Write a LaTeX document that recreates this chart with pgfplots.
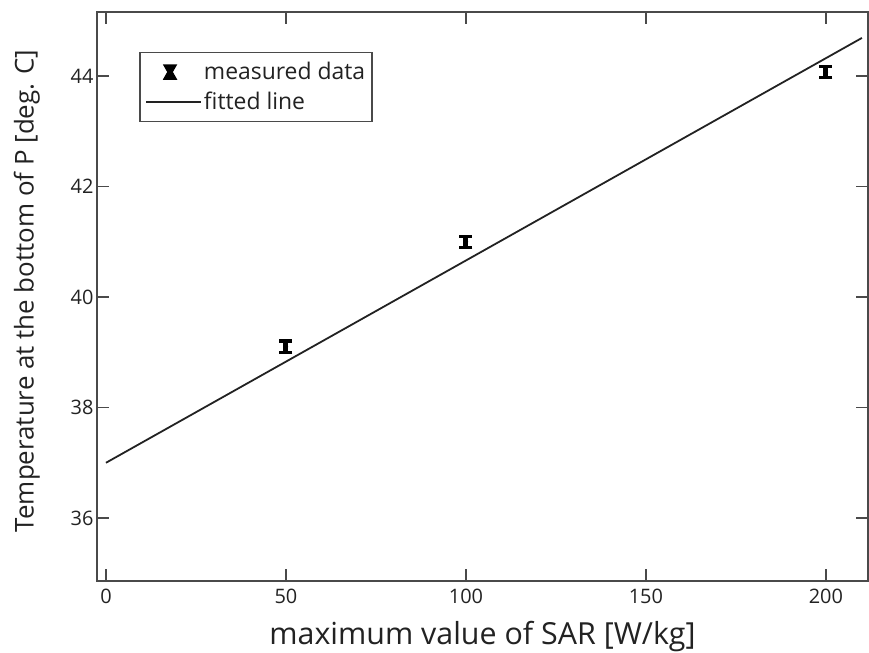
\documentclass[border=0pt]{standalone}
\usepackage{fontspec}
\setmainfont{Open Sans}
\usepackage{pgfplots}
\pgfplotsset{compat=1.18}
\definecolor{axgray}{HTML}{4a4a4a}
\definecolor{txt}{HTML}{222222}
\begin{document}
\begin{tikzpicture}[x=1bp,y=1bp]
\begin{axis}[
  at={(97bp,72bp)}, anchor=south west,
  width=771bp, height=569bp, scale only axis,
  xmin=-2.5, xmax=211.7, ymin=34.86, ymax=45.16,
  xtick={0,50,...,200}, ytick={36,38,...,44},
  tick align=inside, major tick length=12bp,
  tick style={axgray, line width=1.5bp},
  axis line style={axgray, line width=2.5bp},
  ticklabel style={font=\fontsize{20}{24}\selectfont, text=txt},
  xticklabel style={yshift=-5bp},
  /pgf/number format/assume math mode=true,
  xlabel={maximum value of SAR [W/kg]},
  ylabel={Temperature at the bottom of P [deg. C]},
  x label style={font=\fontsize{30.5}{34}\selectfont, text=txt, at={(axis description cs:0.5,-0.097)}, anchor=center},
  y label style={font=\fontsize{26}{30}\selectfont, text=txt, at={(axis description cs:-0.091,0.51)}, anchor=center},
  legend style={at={(axis description cs:0.055,0.93)}, anchor=north west,
    draw=axgray, line width=1.5bp, font=\fontsize{23}{26}\selectfont, text=txt,
    inner xsep=5bp, inner ysep=8bp, row sep=7bp,
    /tikz/every even column/.append style={column sep=9bp}},
  legend cell align=left,
]
\addplot[only marks, mark=none,
  legend image code/.code={\fill[black] (18bp,7bp) -- (30bp,7bp) -- (26bp,0bp) -- (30bp,-7bp) -- (18bp,-7bp) -- (22bp,0bp) -- cycle; \path[draw=none] (0bp,0bp) -- (55bp,0bp);},
  error bars/.cd, y dir=both, y explicit,
  error bar style={line width=5bp, black},
  error mark options={rotate=90, line width=3.5bp, mark size=6.5bp, black}]
  coordinates {(50,39.1) +- (0,0.1) (100,41.0) +- (0,0.1) (200,44.07) +- (0,0.1)};
\addlegendentry{measured data}
\addplot[color=txt, line width=1.8bp,
  legend image code/.code={\draw[txt, line width=1.8bp] (0bp,0bp) -- (55bp,0bp);}]
  coordinates {(0,37.0) (210,44.69)};
\addlegendentry{fitted line}
\end{axis}
\pgfresetboundingbox
\useasboundingbox (0,0) rectangle (869,653);
\end{tikzpicture}
\end{document}
